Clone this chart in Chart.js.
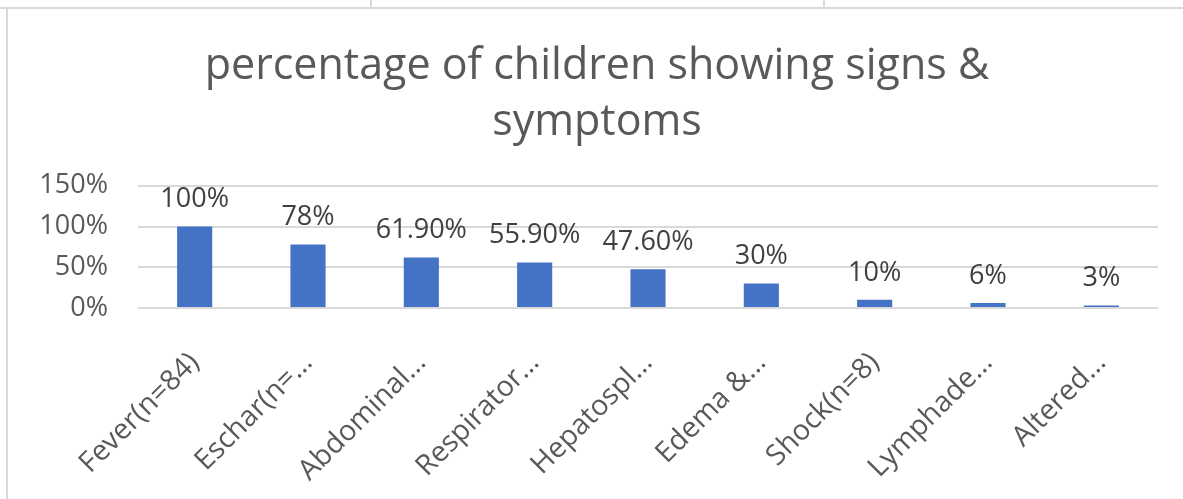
<!DOCTYPE html>
<html>
<head>
<meta charset="utf-8">
<script src="https://cdn.jsdelivr.net/npm/chart.js@4/dist/chart.umd.min.js"></script>
<style>
  html, body { margin: 0; padding: 0; background: #fff; }
  #wrap { position: relative; width: 1183px; height: 499px; overflow: hidden; }
  #chart { position: absolute; left: 0; top: 0; }
  .ln { position: absolute; background: #d9d9d9; }
</style>
</head>
<body>
<div id="wrap">
  <canvas id="chart" width="1183" height="499"></canvas>
  <div class="ln" style="left:0;top:7px;width:1183px;height:2px"></div>
  <div class="ln" style="left:370px;top:0;width:2px;height:8px"></div>
  <div class="ln" style="left:823px;top:0;width:2px;height:8px"></div>
  <div class="ln" style="left:6px;top:8px;width:2px;height:491px"></div>
</div>
<script>
var categories = ['Fever(n=84)', 'Eschar(n=…', 'Abdominal…', 'Respirator…', 'Hepatospl…',
                  'Edema &…', 'Shock(n=8)', 'Lymphade…', 'Altered…'];
var values = [100, 78, 61.9, 55.9, 47.6, 30, 10, 6, 3];
var valueLabels = ['100%', '78%', '61.90%', '55.90%', '47.60%', '30%', '10%', '6%', '3%'];
var yTicks = [0, 50, 100, 150];

var FONT = "'Open Sans', 'DejaVu Sans', sans-serif";

// 막대 위에 값 라벨 그리기
var barLabels = {
    id: 'barLabels',
    afterDatasetsDraw: function(chart) {
        var ctx = chart.ctx;
        var meta = chart.getDatasetMeta(0);
        ctx.save();
        ctx.font = '27px ' + FONT;
        ctx.fillStyle = '#404040';
        ctx.textAlign = 'center';
        ctx.textBaseline = 'middle';
        meta.data.forEach(function(bar, i) {
            ctx.fillText(valueLabels[i], bar.x, bar.y - 27);
        });
        ctx.restore();
    }
};

var ctx = document.getElementById('chart').getContext('2d');
var chart = new Chart(ctx, {
    type: 'bar',
    data: {
        labels: categories,
        datasets: [{
            data: values,
            backgroundColor: '#4472C4',
            categoryPercentage: 1,
            barPercentage: 0.31
        }]
    },
    options: {
        responsive: false,
        animation: false,
        layout: { padding: { left: 36, right: 25, top: 0, bottom: 0 } },
        plugins: {
            legend: { display: false },
            tooltip: { enabled: false },
            title: {
                display: true,
                text: ['percentage of children showing signs &', 'symptoms'],
                color: '#595959',
                font: { family: FONT, size: 43, weight: '400', lineHeight: 1.3 },
                padding: { top: 39, bottom: 35 }
            }
        },
        scales: {
            x: {
                grid: { display: false, drawTicks: false },
                border: { display: false },
                ticks: {
                    color: '#595959',
                    font: { family: FONT, size: 28.5 },
                    minRotation: 45,
                    maxRotation: 45,
                    autoSkip: false,
                    padding: 38
                },
                afterFit: function(s) { s.height = 191; }
            },
            y: {
                min: 0,
                max: 150,
                afterBuildTicks: function(s) {
                    s.ticks = yTicks.map(function(v) { return { value: v }; });
                },
                grid: { color: '#d9d9d9', lineWidth: 2, drawTicks: false },
                border: { display: false },
                ticks: {
                    color: '#595959',
                    font: { family: FONT, size: 27 },
                    padding: 30,
                    callback: function(v) { return v + '%'; }
                },
                afterFit: function(s) { s.width = 102; }
            }
        }
    },
    plugins: [barLabels]
});
</script>
</body>
</html>
